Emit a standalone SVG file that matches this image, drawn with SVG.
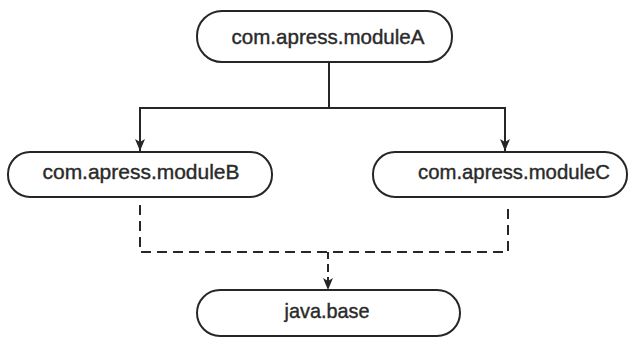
<svg xmlns="http://www.w3.org/2000/svg" width="631" height="341" viewBox="0 0 631 341">
<defs>
<style>
.node rect{fill:#fff;stroke:#262626;stroke-width:2}
.node text{font-family:"Liberation Sans",Arial,sans-serif;font-size:21px;fill:#2a2a2a;stroke:#2a2a2a;stroke-width:0.4;text-anchor:middle}
.edge{fill:none;stroke:#262626;stroke-width:2}
.dash{stroke-dasharray:10 6}
.head{fill:#262626}
</style>
</defs>
<rect width="631" height="341" fill="#fff"/>
<g id="connectors">
<path class="edge" d="M329 62 V108 M139 108 H506"/>
<path class="edge" d="M140 108 V151"/>
<path class="edge" d="M505 108 V151"/>
<path class="head" d="M135 139 L140 142 L145 139 L140 151 Z"/>
<path class="head" d="M500 139 L505 142 L510 139 L505 151 Z"/>
<path class="edge dash" d="M140 205 V252 H508 V205"/>
<path class="edge" d="M328 252 V259"/>
<path class="edge" stroke-dasharray="8 5" d="M328 264 V289"/>
<path class="head" d="M323 278 L328 281 L333 278 L328 290 Z"/>
</g>
<g id="moduleA" class="node">
<rect x="197" y="11" width="255" height="51" rx="25"/>
<text x="328" y="44" textLength="193" lengthAdjust="spacingAndGlyphs">com.apress.moduleA</text>
</g>
<g id="moduleB" class="node">
<rect x="8" y="152" width="264" height="45" rx="22"/>
<text x="141" y="179" textLength="197" lengthAdjust="spacingAndGlyphs">com.apress.moduleB</text>
</g>
<g id="moduleC" class="node">
<rect x="373" y="152" width="254" height="45" rx="22"/>
<text x="514" y="179" textLength="192" lengthAdjust="spacingAndGlyphs">com.apress.moduleC</text>
</g>
<g id="javabase" class="node">
<rect x="197" y="290" width="263" height="46" rx="23"/>
<text x="327" y="318" textLength="85" lengthAdjust="spacingAndGlyphs">java.base</text>
</g>
</svg>
